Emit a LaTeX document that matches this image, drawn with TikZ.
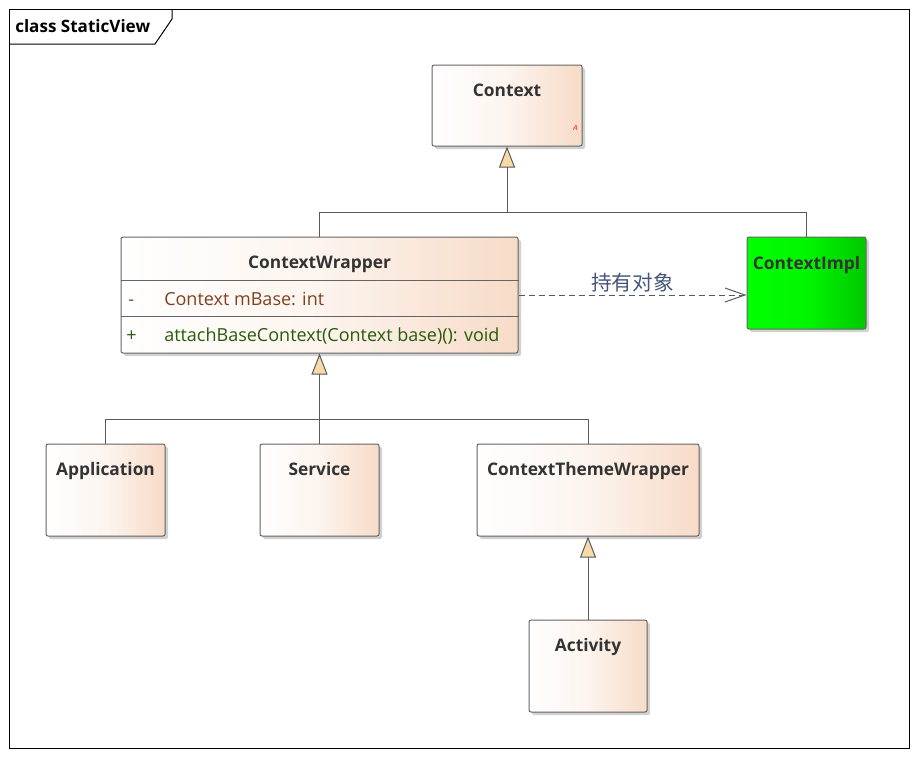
\documentclass[tikz,border=0pt]{standalone}
\usepackage{fontspec}
\setmainfont{Open Sans}
\newfontfamily\cjkfont{Noto Sans CJK SC}
\usetikzlibrary{arrows.meta,shadows,fit,positioning}

\definecolor{peach}{RGB}{247,219,199}
\definecolor{boxline}{RGB}{100,100,100}
\definecolor{conline}{RGB}{90,90,90}
\definecolor{gentip}{RGB}{247,218,170}
\definecolor{namegray}{RGB}{51,51,51}
\definecolor{attrbrown}{RGB}{128,64,32}
\definecolor{opgreen}{RGB}{40,90,10}
\definecolor{implleft}{RGB}{0,255,0}
\definecolor{implright}{RGB}{0,200,0}
\definecolor{deplabel}{RGB}{70,85,120}

\tikzset{
  classbox/.style={draw=boxline, line width=0.75pt, rounded corners=1.5pt, inner sep=0pt,
    left color=white, right color=peach, middle color=peach!30!white,
    drop shadow={shadow xshift=2.25pt, shadow yshift=-2.25pt, fill=black!18, opacity=1}},
  implbox/.style={classbox, left color=implleft, right color=implright, middle color=implleft!85!implright},
  classname/.style={font=\bfseries\fontsize{13}{15}\selectfont, text=namegray, anchor=base, inner sep=0pt},
  member/.style={font=\fontsize{13.5}{15}\selectfont, anchor=base west, inner sep=0pt},
  gen/.style={draw=conline, line width=0.75pt, -{Triangle[length=15.75pt, width=12pt, fill=gentip]}},
  plainline/.style={draw=conline, line width=0.75pt},
  dep/.style={draw=conline, line width=0.75pt, dash pattern=on 4.5pt off 3pt,
    -{Straight Barb[length=15pt, width=10.5pt]}}
}

\begin{document}
\begin{tikzpicture}[x=0.75pt, y=-0.75pt]
\useasboundingbox[fill=white] (0,0) rectangle (916,757);

% frame and its tab
\draw[line width=0.75pt] (9,9) rectangle (909,748);
\draw[line width=0.75pt] (9,44) -- (155,44) -- (172,19) -- (172,9);
\node[font=\bfseries\fontsize{12.8}{14}\selectfont, anchor=base west, inner sep=0pt] (frametitle) at (15,32) {class StaticView};

% classes
\node[classbox, fit={(432,65) (582,146)}] (ctx) {};
\node[classname] (ctx-name) at ([yshift=-24.2pt]ctx.north) {Context};
\node[font=\itshape\fontsize{5.5}{6}\selectfont, text=red, inner sep=0pt] (ctx-abs) at ([xshift=-5.25pt, yshift=14.25pt]ctx.south east) {A};

\node[classbox, fit={(121,237) (518,353)}] (cw) {};
\node[classname] (cw-name) at ([yshift=-24.2pt]cw.north) {ContextWrapper};
\draw[draw=boxline, line width=0.75pt] ([yshift=-33pt]cw.north west) -- ([yshift=-33pt]cw.north east);
\draw[draw=boxline, line width=0.75pt] ([yshift=-60pt]cw.north west) -- ([yshift=-60pt]cw.north east);
\node[member, text=attrbrown] (cw-vis1) at (128,305) {-};
\node[member, text=attrbrown] (cw-attr) at (164,305) {Context mBase: int};
\node[member, text=opgreen] (cw-vis2) at (126,341) {+};
\node[member, text=opgreen] (cw-op) at (164,341) {attachBaseContext(Context base)(): void};

\node[implbox, fit={(747,237) (866,329)}] (impl) {};
\node[classname] (impl-name) at ([yshift=-24.4pt]impl.north) {ContextImpl};

\node[classbox, fit={(46,444) (165,536)}] (app) {};
\node[classname] (app-name) at ([yshift=-24.2pt]app.north) {Application};

\node[classbox, fit={(260,444) (379,536)}] (srv) {};
\node[classname] (srv-name) at ([yshift=-24.2pt]srv.north) {Service};

\node[classbox, fit={(477,444) (699,536)}] (ctw) {};
\node[classname] (ctw-name) at ([yshift=-24.2pt]ctw.north) {ContextThemeWrapper};

\node[classbox, fit={(529,620) (647,712)}] (act) {};
\node[classname] (act-name) at ([yshift=-24.2pt]act.north) {Activity};

% generalizations
\coordinate (ctxjoin) at (507,212);
\draw[gen] (cw.north) |- (ctxjoin) -- (ctx.south);
\draw[plainline] (impl.north) |- (ctxjoin);

\coordinate (cwjoin) at (319.5,419);
\draw[gen] (srv.north) -- (cwjoin) -- (cw.south);
\draw[plainline] (app.north) |- (cwjoin);
\draw[plainline] (ctw.north) |- (cwjoin);

\draw[gen] (act.north) -- (ctw.south);

% dependency
\draw[dep] (cw.east) -- (cw.east -| impl.west) node[midway, above, inner sep=2pt, font=\cjkfont\fontsize{15.5}{17}\selectfont, text=deplabel] (dep-label) {持有对象};
\end{tikzpicture}
\end{document}
